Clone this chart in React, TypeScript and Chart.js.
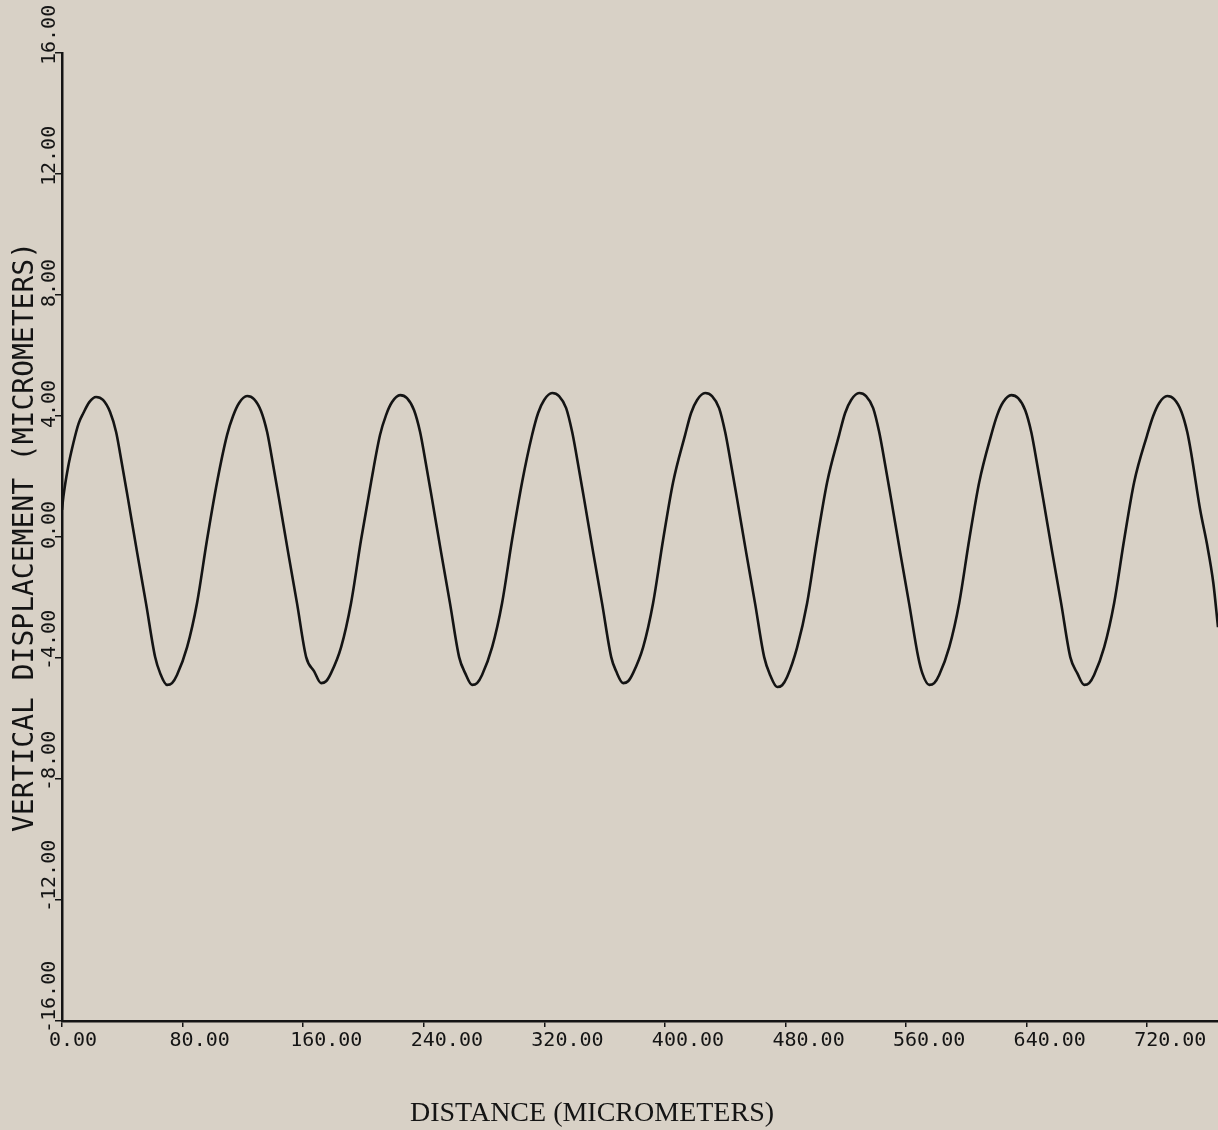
import React, { useEffect, useRef } from "react";
import { Chart, registerables } from "chart.js";

Chart.register(...registerables);

// Distance along the profile (micrometers)
const distance: number[] = [
  0, 0.9, 4.0, 7.5, 11.0, 14.1, 18.0, 22.6,
  27.2, 31.9, 35.9, 38.5, 43.8, 49.8, 55.8, 61.8, 65.1, 69.7,
  73.0, 76.3, 83.0, 89.6, 96.2, 102.9, 109.5, 113.5, 117.5, 122.8,
  127.4, 132.1, 136.1, 138.7, 144.0, 150.0, 156.0, 162.0, 167.3, 171.9,
  175.2, 178.5, 185.2, 191.8, 198.4, 205.1, 211.0, 215.0, 219.0, 224.3,
  228.9, 233.6, 237.6, 240.2, 245.5, 251.5, 257.5, 263.5, 267.5, 272.1,
  275.4, 278.7, 285.4, 292.0, 298.6, 305.3, 311.9, 315.9, 319.9, 325.2,
  329.8, 334.5, 338.5, 341.1, 346.4, 352.4, 358.4, 364.4, 367.7, 372.3,
  375.6, 378.9, 385.6, 392.2, 398.8, 405.5, 413.4, 417.4, 421.4, 426.7,
  431.3, 436.0, 440.0, 442.6, 447.9, 453.9, 459.9, 465.9, 469.9, 474.5,
  477.8, 481.1, 487.8, 494.4, 501.0, 507.7, 515.6, 519.6, 523.6, 528.9,
  533.5, 538.2, 542.2, 544.8, 550.1, 556.1, 562.1, 568.1, 570.8, 575.4,
  578.7, 582.0, 588.7, 595.3, 601.9, 608.6, 616.5, 620.5, 624.5, 629.8,
  634.4, 639.1, 643.1, 645.7, 651.0, 657.0, 663.0, 669.0, 673.6, 678.2,
  681.5, 684.8, 691.5, 698.1, 704.7, 711.4, 720.0, 724.0, 728.0, 733.3,
  737.9, 742.6, 746.6, 749.2, 755.2, 759.6, 763.9, 767.0,
];

// Vertical displacement (micrometers)
const displacement: number[] = [
  0.9, 1.33, 2.3, 3.1, 3.75, 4.09, 4.45, 4.63,
  4.53, 4.13, 3.47, 2.78, 1.26, -0.5, -2.21, -3.97, -4.5, -4.89,
  -4.83, -4.56, -3.64, -2.18, -0.1, 1.82, 3.37, 4.0, 4.43, 4.66,
  4.56, 4.16, 3.47, 2.78, 1.26, -0.5, -2.21, -3.97, -4.44, -4.83,
  -4.77, -4.5, -3.64, -2.18, -0.1, 1.82, 3.37, 4.03, 4.46, 4.69,
  4.59, 4.19, 3.47, 2.78, 1.26, -0.5, -2.21, -3.97, -4.5, -4.89,
  -4.83, -4.56, -3.64, -2.18, -0.1, 1.82, 3.37, 4.1, 4.53, 4.76,
  4.66, 4.26, 3.47, 2.78, 1.26, -0.5, -2.21, -3.97, -4.44, -4.83,
  -4.77, -4.5, -3.64, -2.18, -0.1, 1.82, 3.37, 4.1, 4.53, 4.76,
  4.66, 4.26, 3.47, 2.78, 1.26, -0.5, -2.21, -3.97, -4.57, -4.96,
  -4.9, -4.63, -3.64, -2.18, -0.1, 1.82, 3.37, 4.1, 4.53, 4.76,
  4.66, 4.26, 3.47, 2.78, 1.26, -0.5, -2.21, -3.97, -4.5, -4.89,
  -4.83, -4.56, -3.64, -2.18, -0.1, 1.82, 3.37, 4.03, 4.46, 4.69,
  4.59, 4.19, 3.47, 2.78, 1.26, -0.5, -2.21, -3.97, -4.5, -4.89,
  -4.83, -4.56, -3.64, -2.18, -0.1, 1.82, 3.37, 4.0, 4.43, 4.66,
  4.56, 4.16, 3.47, 2.78, 0.89, -0.21, -1.52, -2.98,
];

const xTicks: number[] = [0, 80, 160, 240, 320, 400, 480, 560, 640, 720];
const yTicks: number[] = [-16, -12, -8, -4, 0, 4, 8, 12, 16];

const xTitle = "DISTANCE (MICROMETERS)";
const yTitle = "VERTICAL DISPLACEMENT (MICROMETERS)";

const PAPER = "#d8d1c6";
const INK = "#141414";
const MONO = '"DejaVu Sans Mono", monospace';

const paperPlugin = {
  id: "paper",
  beforeDraw(chart: any) {
    const { ctx, width, height } = chart;
    ctx.save();
    ctx.fillStyle = PAPER;
    ctx.fillRect(0, 0, width, height);
    ctx.restore();
  },
};

const axisTextPlugin = {
  id: "axisText",
  afterDraw(chart: any) {
    const { ctx } = chart;
    const yScale = chart.scales.y;
    ctx.save();
    ctx.fillStyle = INK;
    // rotated y tick labels
    ctx.font = `20px ${MONO}`;
    ctx.textAlign = "left";
    ctx.textBaseline = "alphabetic";
    yTicks.forEach((v) => {
      const py = yScale.getPixelForValue(v);
      ctx.save();
      ctx.translate(55, py + 12);
      ctx.rotate(-Math.PI / 2);
      ctx.fillText(v.toFixed(2), 0, 0);
      ctx.restore();
    });
    // y axis title
    const ca = chart.chartArea;
    ctx.font = `28px ${MONO}`;
    ctx.textAlign = "center";
    ctx.save();
    ctx.translate(33, (ca.top + ca.bottom) / 2);
    ctx.rotate(-Math.PI / 2);
    ctx.fillText(yTitle, 0, 0);
    ctx.restore();
    // x axis title
    ctx.font = '28px "Liberation Serif", serif';
    ctx.textAlign = "center";
    ctx.textBaseline = "middle";
    ctx.fillText(xTitle, 592, 1114);
    ctx.restore();
  },
};

export default function App() {
  const canvasRef = useRef<HTMLCanvasElement | null>(null);

  useEffect(() => {
    document.body.style.margin = "0";
    document.body.style.background = PAPER;
    const canvas = canvasRef.current;
    if (!canvas) return;
    const n = Math.min(distance.length, displacement.length);
    const points = [];
    for (let i = 0; i < n; i++) points.push({ x: distance[i], y: displacement[i] });

    const chart = new Chart(canvas, {
      type: "line",
      data: {
        datasets: [
          {
            data: points,
            borderColor: INK,
            borderWidth: 2.6,
            pointRadius: 0,
            fill: false,
            cubicInterpolationMode: "monotone",
          },
        ],
      },
      options: {
        responsive: false,
        animation: false,
        devicePixelRatio: 1,
        layout: { padding: { top: 53, right: 0, left: 0, bottom: 0 } },
        plugins: {
          legend: { display: false },
          tooltip: { enabled: false },
          title: { display: false },
        },
        scales: {
          x: {
            type: "linear",
            min: 0,
            max: 767,
            afterBuildTicks(scale: any) {
              scale.ticks = xTicks.map((v) => ({ value: v }));
            },
            afterFit(scale: any) {
              scale.height = 109;
              scale.paddingLeft = 0;
              scale.paddingRight = 0;
            },
            ticks: {
              stepSize: 80,
              includeBounds: false,
              autoSkip: false,
              maxRotation: 0,
              minRotation: 0,
              align: "start",
              labelOffset: -13,
              padding: 2,
              color: INK,
              font: { family: MONO, size: 20 },
              callback: (v: any) => Number(v).toFixed(2),
            },
            grid: {
              display: true,
              drawOnChartArea: false,
              drawTicks: true,
              tickLength: 6,
              color: INK,
              lineWidth: 1.5,
            },
            border: { display: true, color: INK, width: 2.5 },
          },
          y: {
            type: "linear",
            min: -16,
            max: 16,
            afterBuildTicks(scale: any) {
              scale.ticks = yTicks.map((v) => ({ value: v }));
            },
            afterFit(scale: any) {
              scale.width = 62;
              scale.paddingTop = 0;
              scale.paddingBottom = 0;
            },
            ticks: {
              display: false,
              stepSize: 4,
            },
            grid: {
              display: true,
              drawOnChartArea: false,
              drawTicks: true,
              tickLength: 7,
              color: INK,
              lineWidth: 1.5,
            },
            border: { display: true, color: INK, width: 2.5 },
          },
        },
      },
      plugins: [paperPlugin, axisTextPlugin],
    } as any);

    return () => {
      chart.destroy();
    };
  }, []);

  return (
    <div style={{ width: 1218, height: 1130, background: PAPER }}>
      <canvas ref={canvasRef} width={1218} height={1130} style={{ display: "block" }} />
    </div>
  );
}
